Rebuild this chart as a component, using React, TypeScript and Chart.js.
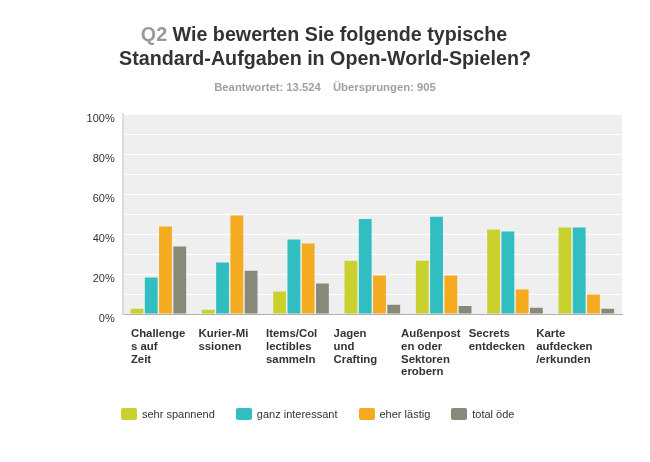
import React, { useEffect, useRef } from "react";
import { Chart, registerables } from "chart.js";

Chart.register(...registerables);

const categoryLines: string[][] = [
  ["Challenge", "s auf", "Zeit"],
  ["Kurier-Mi", "ssionen"],
  ["Items/Col", "lectibles", "sammeln"],
  ["Jagen", "und", "Crafting"],
  ["Außenpost", "en oder", "Sektoren", "erobern"],
  ["Secrets", "entdecken"],
  ["Karte", "aufdecken", "/erkunden"],
];
const categories = categoryLines.map((l) => l.join(""));

const seriesNames = ["sehr spannend", "ganz interessant", "eher lästig", "total öde"];
const seriesColors = ["#c9d12e", "#31bec0", "#f5ab20", "#898979"];

const sehrSpannend = [2.6, 2.1, 11.3, 26.6, 26.6, 42.3, 43.3];
const ganzInteressant = [18.2, 25.7, 37.3, 47.5, 48.6, 41.2, 43.3];
const eherLaestig = [43.7, 49.2, 35.2, 19.3, 19.3, 12.2, 9.7];
const totalOede = [33.8, 21.6, 15.3, 4.6, 4.0, 3.1, 2.6];
const seriesValues = [sehrSpannend, ganzInteressant, eherLaestig, totalOede];

const yTicks = [0, 20, 40, 60, 80, 100];

const font = "'Liberation Sans', Arial, sans-serif";

const bgPlugin = {
  id: "plotBg",
  beforeDraw(chart: any) {
    const { ctx, chartArea } = chart;
    ctx.save();
    ctx.fillStyle = "#efefef";
    ctx.fillRect(chartArea.left, chartArea.top, chartArea.right - chartArea.left, chartArea.bottom - chartArea.top);
    ctx.restore();
  },
};

const xLabelPlugin = {
  id: "xLabels",
  afterDraw(chart: any) {
    const { ctx, chartArea } = chart;
    const xs = chart.scales.x;
    const catW = (chartArea.right - chartArea.left) / categories.length;
    ctx.save();
    ctx.font = `bold 11.4px ${font}`;
    ctx.fillStyle = "#333333";
    ctx.textAlign = "left";
    ctx.textBaseline = "alphabetic";
    categoryLines.forEach((lines, i) => {
      const center = xs.getPixelForValue(i);
      const x = center - catW * 0.385 - i * catW * 0.053;
      lines.forEach((line, j) => {
        ctx.fillText(line, x, chartArea.bottom + 23 + j * 12.8);
      });
    });
    ctx.restore();
  },
};

function ChartCanvas() {
  const ref = useRef<HTMLCanvasElement | null>(null);
  useEffect(() => {
    if (!ref.current) return;
    const chart = new Chart(ref.current, {
      type: "bar",
      data: {
        labels: categories,
        datasets: seriesNames.map((name, i) => ({
          label: name,
          data: seriesValues[i],
          backgroundColor: seriesColors[i],
          borderWidth: 0,
          categoryPercentage: 0.8,
          barPercentage: 0.9,
        })),
      },
      options: {
        animation: false,
        responsive: false,
        maintainAspectRatio: false,
        layout: { padding: { top: 114, right: 28, left: 0, bottom: 0 } },
        plugins: {
          legend: { display: false },
          tooltip: { enabled: false },
          title: { display: false },
        },
        scales: {
          x: {
            grid: { display: false, drawTicks: false },
            border: { display: true, color: "#b0b0b0", width: 1 },
            ticks: { display: false },
            afterFit(scale: any) {
              scale.height = 148;
            },
          },
          y: {
            min: 0,
            max: 100,
            afterBuildTicks(scale: any) {
              const t: any[] = [];
              for (let v = 0; v <= 100; v += 10) t.push({ value: v });
              scale.ticks = t;
            },
            afterFit(scale: any) {
              scale.width = 122.7;
            },
            grid: { color: "#ffffff", lineWidth: 1, drawTicks: false },
            border: { display: true, color: "#dcdcdc", width: 2 },
            ticks: {
              padding: 8,
              labelOffset: 4.5,
              color: "#333333",
              font: { family: font, size: 11 },
              callback: (v: any) => (yTicks.includes(Number(v)) ? `${v}%` : ""),
            },
          },
        },
      },
      plugins: [bgPlugin, xLabelPlugin],
    });
    return () => chart.destroy();
  }, []);
  return <canvas ref={ref} width={650} height={462} style={{ position: "absolute", left: 0, top: 0 }} />;
}

export default function App() {
  return (
    <div style={{ position: "fixed", left: 0, top: 0, width: 650, height: 462, background: "#fff", overflow: "hidden", fontFamily: font }}>
      <ChartCanvas />
      <div
        style={{
          position: "absolute",
          left: 0,
          width: 650,
          top: 22,
          textAlign: "center",
          fontWeight: "bold",
          fontSize: "19.7px",
          lineHeight: "24px",
          color: "#333",
        }}
      >
        <div style={{ width: 650, marginLeft: -1 }}>
          <span style={{ color: "#999" }}>Q2</span> Wie bewerten Sie folgende typische
        </div>
        <div style={{ width: 650 }}>Standard-Aufgaben in Open-World-Spielen?</div>
      </div>
      <div
        style={{
          position: "absolute",
          left: 0,
          width: 650,
          top: 81,
          textAlign: "center",
          fontWeight: "bold",
          fontSize: "11.3px",
          color: "#a0a0a0",
        }}
      >
        <span>Beantwortet: 13.524</span>
        <span style={{ marginLeft: 12 }}>Übersprungen: 905</span>
      </div>
      <div style={{ position: "absolute", left: 121, top: 408, display: "flex", alignItems: "center" }}>
        {seriesNames.map((name, i) => (
          <div key={name} style={{ display: "flex", alignItems: "center", marginRight: 21 }}>
            <div style={{ width: 16, height: 12, borderRadius: 2, background: seriesColors[i], marginRight: 5 }} />
            <span style={{ fontSize: "11px", color: "#333" }}>{name}</span>
          </div>
        ))}
      </div>
    </div>
  );
}
